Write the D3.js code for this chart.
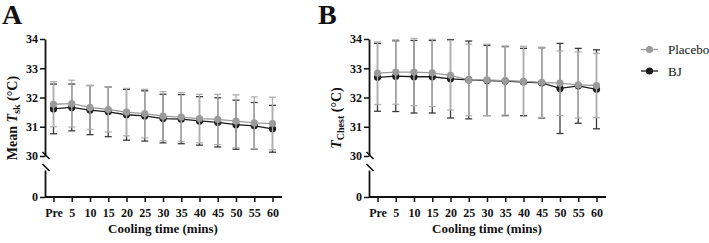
<!DOCTYPE html>
<html>
<head>
<meta charset="utf-8">
<script src="https://cdn.jsdelivr.net/npm/d3@7"></script>
<style>
  body { margin: 0; background: #fff; }
  svg { display: block; font-family: 'Liberation Serif', 'Times New Roman', serif; }
  .axis text { font-size: 12px; font-weight: bold; fill: #111; }
  .axis path, .axis line { stroke: #111; }
</style>
</head>
<body>
<div id="vis"></div>
<script>
const times = ['Pre', '5', '10', '15', '20', '25', '30', '35', '40', '45', '50', '55', '60'];
const yTicks = [30, 31, 32, 33, 34];

// panel A: mean skin temperature
const tskPlacebo = [31.77, 31.79, 31.66, 31.59, 31.50, 31.45, 31.36, 31.33, 31.28, 31.25, 31.19, 31.13, 31.11];
const tskPlaceboSD = [0.77, 0.80, 0.75, 0.77, 0.81, 0.83, 0.84, 0.84, 0.83, 0.86, 0.90, 0.89, 0.90];
const tskBJ = [31.61, 31.66, 31.57, 31.51, 31.41, 31.37, 31.28, 31.26, 31.20, 31.15, 31.07, 31.03, 30.93];
const tskBJSD = [0.85, 0.80, 0.84, 0.85, 0.87, 0.86, 0.83, 0.84, 0.83, 0.84, 0.84, 0.80, 0.80];

// panel B: chest temperature
const chestPlacebo = [32.83, 32.87, 32.87, 32.84, 32.76, 32.60, 32.60, 32.58, 32.55, 32.52, 32.49, 32.43, 32.41];
const chestPlaceboSD = [1.07, 1.10, 1.15, 1.15, 1.19, 1.22, 1.22, 1.18, 1.20, 1.20, 1.10, 1.13, 1.10];
const chestBJ = [32.69, 32.73, 32.71, 32.71, 32.64, 32.60, 32.58, 32.56, 32.53, 32.50, 32.31, 32.40, 32.28];
const chestBJSD = [1.16, 1.21, 1.24, 1.24, 1.34, 1.33, 1.20, 1.18, 1.15, 1.20, 1.54, 1.28, 1.35];

const series = ['Placebo', 'BJ'];
const dotColor = { Placebo: '#9b9b9b', BJ: '#1c1c1c' };
const barColor = { Placebo: '#b0b0b0', BJ: '#3a3a3a' };
const serif = "'Liberation Serif', 'Times New Roman', serif";

const width = 709, height = 243;
const svg = d3.select('#vis').append('svg')
  .attr('width', width)
  .attr('height', height)
  .attr('font-family', serif);

const yTop = 39, yBreak = 156, yZero = 197;

function styleAxis(sel) {
  sel.attr('font-family', serif).attr('font-size', 12).attr('font-weight', 'bold');
  sel.select('.domain').attr('stroke-width', 1.8);
  sel.selectAll('.tick line').attr('stroke-width', 1.5);
}

function drawPanel(opts) {
  const g = svg.append('g');
  const ax = opts.axisX;

  const x = d3.scalePoint().domain(times).range([ax + 8.5, ax + 227.5]);
  const y = d3.scaleLinear().domain([30, 34]).range([yBreak, yTop]);
  const yLow = d3.scaleLinear().domain([0, 1]).range([yZero, yZero - 27]);

  // upper y axis
  g.append('g')
    .attr('class', 'axis')
    .attr('transform', 'translate(' + ax + ',0)')
    .call(d3.axisLeft(y).tickValues(yTicks).tickFormat(d3.format('d'))
      .tickSize(5).tickPadding(2).tickSizeOuter(0))
    .call(styleAxis);

  // lower y axis (just the zero)
  g.append('g')
    .attr('class', 'axis')
    .attr('transform', 'translate(' + ax + ',0)')
    .call(d3.axisLeft(yLow).tickValues([0]).tickFormat(d3.format('d'))
      .tickSize(5).tickPadding(2).tickSizeOuter(0))
    .call(styleAxis);

  // break marks
  [[yBreak - 4, yBreak + 3], [yBreak + 8, yBreak + 15]].forEach(function (b) {
    g.append('line')
      .attr('x1', ax - 2.5).attr('y1', b[0])
      .attr('x2', ax + 4.5).attr('y2', b[1])
      .attr('stroke', '#111').attr('stroke-width', 1.6);
  });

  // x axis
  const xAxis = g.append('g')
    .attr('class', 'axis')
    .attr('transform', 'translate(0,' + yZero + ')')
    .call(d3.axisBottom(x).tickSize(5).tickPadding(6).tickSizeOuter(0))
    .call(styleAxis);
  xAxis.select('.domain').remove();
  g.append('line')
    .attr('x1', ax).attr('x2', ax + 237)
    .attr('y1', yZero).attr('y2', yZero)
    .attr('stroke', '#111').attr('stroke-width', 1.8);

  // x title
  g.append('text')
    .attr('x', ax + 118).attr('y', 233)
    .attr('text-anchor', 'middle')
    .attr('font-size', 13).attr('font-weight', 'bold')
    .attr('fill', '#111')
    .text('Cooling time (mins)');

  // y title
  const yt = g.append('text')
    .attr('transform', 'translate(' + (ax - 28) + ',118) rotate(-90)')
    .attr('text-anchor', 'middle')
    .attr('font-size', 14).attr('font-weight', 'bold')
    .attr('fill', '#111');
  if (opts.prefix) yt.append('tspan').text(opts.prefix);
  yt.append('tspan').attr('font-style', 'italic').text('T');
  yt.append('tspan').attr('font-size', 10).attr('dy', 3).text(opts.sub);
  yt.append('tspan').attr('dy', -3).text(' (°C)');

  // panel letter
  g.append('text')
    .attr('x', opts.letterX).attr('y', 24)
    .attr('font-size', 28).attr('font-weight', 'bold')
    .attr('fill', '#111')
    .text(opts.letter);

  // series: BJ first so that Placebo sits on top
  ['BJ', 'Placebo'].forEach(function (s) {
    const mean = opts.data[s].mean;
    const sd = opts.data[s].sd;
    const pts = times.map(function (t, i) { return { t: t, m: mean[i], sd: sd[i] }; });

    const eb = g.append('g');
    pts.forEach(function (p) {
      const cx = x(p.t);
      eb.append('line')
        .attr('x1', cx).attr('x2', cx)
        .attr('y1', y(p.m + p.sd)).attr('y2', y(p.m - p.sd))
        .attr('stroke', barColor[s]).attr('stroke-width', 1.3);
      [p.m + p.sd, p.m - p.sd].forEach(function (v) {
        eb.append('line')
          .attr('x1', cx - 3.5).attr('x2', cx + 3.5)
          .attr('y1', y(v)).attr('y2', y(v))
          .attr('stroke', barColor[s]).attr('stroke-width', 1.3);
      });
    });

    g.append('path')
      .datum(pts)
      .attr('fill', 'none')
      .attr('stroke', dotColor[s])
      .attr('stroke-width', 1.3)
      .attr('d', d3.line().x(function (p) { return x(p.t); }).y(function (p) { return y(p.m); }));

    g.selectAll('.dot-' + s)
      .data(pts)
      .enter().append('circle')
      .attr('cx', function (p) { return x(p.t); })
      .attr('cy', function (p) { return y(p.m); })
      .attr('r', 3.6)
      .attr('fill', dotColor[s]);
  });
}

drawPanel({
  axisX: 45, letter: 'A', letterX: 2, prefix: 'Mean ', sub: 'sk',
  data: {
    Placebo: { mean: tskPlacebo, sd: tskPlaceboSD },
    BJ: { mean: tskBJ, sd: tskBJSD }
  }
});

drawPanel({
  axisX: 369, letter: 'B', letterX: 318, prefix: '', sub: 'Chest',
  data: {
    Placebo: { mean: chestPlacebo, sd: chestPlaceboSD },
    BJ: { mean: chestBJ, sd: chestBJSD }
  }
});

// legend
const legend = svg.append('g').attr('transform', 'translate(641,0)');
series.forEach(function (s, i) {
  const ly = 49.5 + i * 21.5;
  legend.append('line')
    .attr('x1', 0).attr('x2', 17)
    .attr('y1', ly).attr('y2', ly)
    .attr('stroke', dotColor[s]).attr('stroke-width', 1.3);
  legend.append('circle')
    .attr('cx', 8.5).attr('cy', ly).attr('r', 3.6)
    .attr('fill', dotColor[s]);
  legend.append('text')
    .attr('x', 27).attr('y', ly + 4.5)
    .attr('font-size', 13)
    .attr('fill', '#111')
    .text(s);
});
</script>
</body>
</html>
